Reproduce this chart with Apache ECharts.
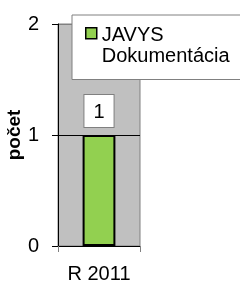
<!DOCTYPE html>
<html>
<head>
<meta charset="utf-8">
<script src="https://cdn.jsdelivr.net/npm/echarts@6/dist/echarts.min.js"></script>
<style>
  html, body { margin: 0; padding: 0; background: #fff; }
  #chart { width: 240px; height: 284px; }
</style>
</head>
<body>
<div id="chart"></div>
<script>
// data
const categories = ['R 2011'];
const seriesName = 'JAVYS\nDokumentácia';
const counts = [1];
const yTicks = { min: 0, max: 2, interval: 1 };

const font = "'Liberation Sans', Arial, sans-serif";

const chart = echarts.init(document.getElementById('chart'), null, { renderer: 'canvas' });

chart.setOption({
  animation: false,
  backgroundColor: '#ffffff',
  textStyle: { fontFamily: font, color: '#000' },
  grid: {
    left: 58, right: 100, top: 24, bottom: 33,
    show: true,
    backgroundColor: '#C0C0C0',
    borderColor: '#808080',
    borderWidth: 1
  },
  legend: {
    left: 72, top: 15,
    padding: [9, 60, 12, 13],
    backgroundColor: '#ffffff',
    borderColor: '#808080',
    borderWidth: 1,
    borderRadius: 0,
    // square on the first text line, empty moves stretch the box to two lines
    icon: 'path://M0,0 M0,3 H11 V14 H0 Z M0,42',
    itemWidth: 11,
    itemHeight: 42,
    itemGap: 4,
    itemStyle: { borderColor: '#000', borderWidth: 1.5 },
    textStyle: { fontFamily: font, fontSize: 20, lineHeight: 21, color: '#000' },
    data: [seriesName]
  },
  xAxis: {
    type: 'category',
    data: categories,
    axisLine: { lineStyle: { color: '#000', width: 1 } },
    axisTick: { show: true, length: 6, lineStyle: { color: '#808080' } },
    axisLabel: { fontFamily: font, fontSize: 20, color: '#000', margin: 18 }
  },
  yAxis: {
    type: 'value',
    min: yTicks.min,
    max: yTicks.max,
    interval: yTicks.interval,
    name: 'počet',
    nameLocation: 'middle',
    nameRotate: 90,
    nameGap: 30,
    nameTextStyle: { fontFamily: font, fontSize: 19, fontWeight: 'bold', color: '#000' },
    axisLine: { show: true, lineStyle: { color: '#000', width: 1 } },
    axisTick: { show: true, length: 6, lineStyle: { color: '#000' } },
    axisLabel: { fontFamily: font, fontSize: 20, color: '#000', margin: 19 },
    splitLine: { show: true, lineStyle: { color: ['#000', '#000', '#808080'], width: 1 } }
  },
  series: [{
    name: seriesName,
    type: 'bar',
    data: counts,
    barWidth: '40%',
    itemStyle: { color: '#92D050', borderColor: '#000', borderWidth: 2 },
    label: {
      show: true,
      position: 'top',
      distance: 8,
      fontFamily: font,
      fontSize: 20,
      color: '#000',
      backgroundColor: '#ffffff',
      borderColor: '#808080',
      borderWidth: 1,
      padding: [7, 9, 5, 9]
    }
  }]
});
</script>
</body>
</html>
